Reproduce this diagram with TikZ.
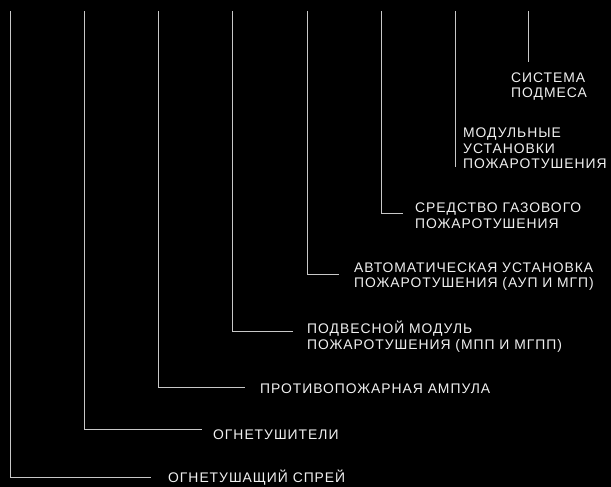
\documentclass[tikz,border=0pt]{standalone}
\usepackage{fontspec}
\setmainfont{Liberation Sans}[LetterSpace=7]
\begin{document}
\begin{tikzpicture}[x=1pt,y=-1pt,
  conn/.style={draw={rgb,255:red,200;green,200;blue,200}, line width=0.9pt},
  lbl/.style={anchor=base west, inner sep=0pt, align=left, text={rgb,255:red,240;green,240;blue,240},
    font=\fontsize{13.9}{15.3}\selectfont}]
\fill[black] (0,0) rectangle (611,487);
\useasboundingbox (0,0) rectangle (611,487);
% tops
\foreach \i/\x in {1/10,2/84,3/158,4/232,5/307,6/381,7/455,8/528}{
  \coordinate (t\i) at (\x,11);
}
% labels (base = baseline of last line)
\node[lbl] (n1) at (168,482.5) {ОГНЕТУШАЩИЙ СПРЕЙ};
\node[lbl] (n2) at (213,439) {ОГНЕТУШИТЕЛИ};
\node[lbl] (n3) at (260,393) {ПРОТИВОПОЖАРНАЯ АМПУЛА};
\node[lbl] (n4) at (307,349) {ПОДВЕСНОЙ МОДУЛЬ\\ПОЖАРОТУШЕНИЯ (МПП И МГПП)};
\node[lbl] (n5) at (354,287.5) {АВТОМАТИЧЕСКАЯ УСТАНОВКА\\ПОЖАРОТУШЕНИЯ (АУП И МГП)};
\node[lbl] (n6) at (415,228) {СРЕДСТВО ГАЗОВОГО\\ПОЖАРОТУШЕНИЯ};
\node[lbl] (n7) at (463,168.5) {МОДУЛЬНЫЕ\\УСТАНОВКИ\\ПОЖАРОТУШЕНИЯ};
\node[lbl] (n8) at (511,97.5) {СИСТЕМА\\ПОДМЕСА};
% elbow ends
\coordinate (e1) at (151,477);
\coordinate (e2) at (202,429);
\coordinate (e3) at (245,387);
\coordinate (e4) at (293,331);
\coordinate (e5) at (339,274);
\coordinate (e6) at (403,213);
\coordinate (e7) at (455,167);
\coordinate (e8) at (528,62);
% connectors
\foreach \i in {1,...,6}{ \draw[conn] (t\i) |- (e\i); }
\draw[conn] (t7) -- (e7);
\draw[conn] (t8) -- (e8);
\end{tikzpicture}
\end{document}
